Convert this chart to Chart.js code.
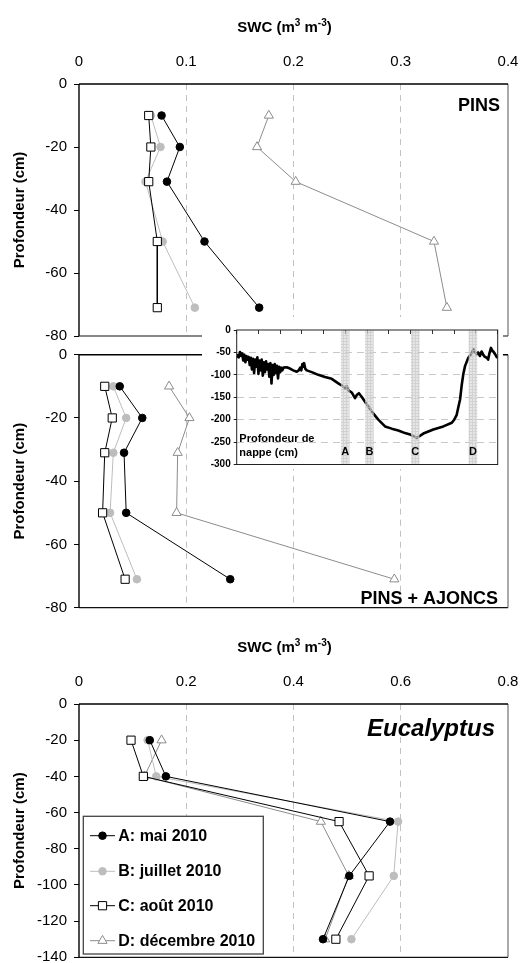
<!DOCTYPE html>
<html>
<head>
<meta charset="utf-8">
<script src="https://cdn.jsdelivr.net/npm/chart.js@4.4.1/dist/chart.umd.min.js"></script>
<style>
  html, body { margin: 0; padding: 0; background: #fff; }
  body { width: 521px; height: 963px; position: relative; overflow: hidden; }
  canvas { position: absolute; display: block; }
  #inset { background: linear-gradient(#fff, #fff) top left / 100% 152px no-repeat; z-index: 5; }
</style>
</head>
<body>
<canvas id="pins" width="521" height="353" style="left:0;top:0"></canvas>
<canvas id="ajoncs" width="521" height="288" style="left:0;top:337px"></canvas>
<canvas id="euca" width="521" height="355" style="left:0;top:620px"></canvas>
<canvas id="inset" width="301" height="158" style="left:202px;top:317px"></canvas>
<script>
// ---- campaigns ----
const campagnes = ['A: mai 2010', 'B: juillet 2010', 'C: août 2010', 'D: décembre 2010'];

// ---- PINS : soil water content (m3 m-3) by depth (cm) ----
const depthPins = [-10, -20, -31, -50, -71];
const pinsA = [0.077, 0.094, 0.082, 0.117, 0.168];
const pinsB = [0.067, 0.076, 0.062, 0.078, 0.108];
const pinsC = [0.065, 0.067, 0.065, 0.073, 0.073];
const pinsD = [0.177, 0.166, 0.202, 0.331, 0.343];

// ---- PINS + AJONCS ----
const depthAjoncs = [-10, -20, -31, -50, -71];
const ajoncsA = [0.038, 0.059, 0.042, 0.044, 0.141];
const ajoncsB = [0.032, 0.044, 0.032, 0.029, 0.054];
const ajoncsC = [0.024, 0.031, 0.024, 0.022, 0.043];
const ajoncsD = [0.084, 0.103, 0.092, 0.091, 0.294];

// ---- Eucalyptus ----
const depthEuc = [-20, -40, -65, -95, -130];
const eucA = [0.132, 0.162, 0.580, 0.504, 0.455];
const eucB = [0.128, 0.144, 0.595, 0.587, 0.508];
const eucC = [0.097, 0.120, 0.485, 0.541, 0.479];
const eucD = [0.154, 0.122, 0.451, 0.503, 0.459];

// ---- axis ranges / tick steps ----
const swcMaxPins = 0.4, swcStepPins = 0.1;
const swcMaxEuc = 0.8, swcStepEuc = 0.2;
const depthMinPins = -80, depthMinEuc = -140, depthStep = 20;

// ---- water table depth (cm) over time (months) ----
const nappeMois = [
  0.00, 0.05, 0.10, 0.15, 0.20, 0.25, 0.30, 0.35, 0.40, 0.45, 0.50, 0.55, 0.60, 0.65, 0.70,
  0.75, 0.80, 0.85, 0.90, 0.95, 1.00, 1.05, 1.10, 1.15, 1.20, 1.25, 1.30, 1.35, 1.40, 1.45,
  1.50, 1.55, 1.60, 1.65, 1.70, 1.75, 1.80, 1.85, 1.90, 1.95, 2.00, 2.05, 2.10, 2.15,
  2.30, 2.45, 2.60, 2.76, 2.85, 2.92, 2.97, 3.02, 3.06, 3.10, 3.15, 3.22, 3.45, 3.75, 4.06,
  4.37, 4.67, 4.90, 5.00, 5.05, 5.13, 5.30, 5.44, 5.52, 5.62, 5.76, 5.90, 6.21, 6.51, 6.82,
  7.13, 7.43, 7.74, 7.97, 8.20, 8.28, 8.58, 9.04, 9.50, 9.89, 10.00, 10.11, 10.20, 10.27,
  10.34, 10.42, 10.50, 10.65, 10.80, 10.88, 10.95, 11.03, 11.10, 11.18, 11.26, 11.33, 11.41,
  11.50, 11.56, 11.62, 11.69, 11.75, 11.80, 11.88, 11.95, 12.00
];
const nappeCm = [
  -62, -56, -61, -49, -57, -52, -68, -55, -72, -58, -66, -60, -78, -62, -88,
  -64, -96, -66, -82, -61, -98, -68, -90, -66, -102, -72, -94, -70, -88, -76,
  -104, -74, -119, -78, -100, -76, -96, -80, -108, -82, -94, -84, -90, -84,
  -83, -86, -90, -93, -90, -84, -90, -76, -82, -74, -86, -90, -94, -100, -105,
  -109, -119, -126, -131, -125, -134, -140, -152, -145, -141, -150, -160, -182, -200, -215,
  -220, -224, -230, -233, -239, -241, -231, -222, -215, -207, -200, -190, -170, -155,
  -125, -98, -80, -62, -52, -43, -50, -54, -50, -58, -48, -55, -60,
  -62, -66, -52, -40, -46, -48, -54, -60, -62
];
const bandes = ['A', 'B', 'C', 'D'];
const bandesMois = [4.99, 6.10, 8.21, 10.86];
const nappeMin = -300, nappeStep = 50, moisMax = 12;

// ---- styles ----
const FONT = '"Liberation Sans", Arial, Helvetica, sans-serif';
Chart.defaults.font.family = FONT;
Chart.defaults.color = '#000';

const seriesStyle = [
  { line: '#000000', fill: '#000000', border: '#000000', shape: 'circle',   r: 3.8, order: 0 },
  { line: '#bdbdbd', fill: '#bdbdbd', border: '#bdbdbd', shape: 'circle',   r: 3.8, order: 2 },
  { line: '#000000', fill: '#ffffff', border: '#000000', shape: 'rect',     r: 5.8, order: 1 },
  { line: '#8c8c8c', fill: '#ffffff', border: '#8c8c8c', shape: 'triangle', r: 5.3, order: 3 }
];

function drawSWCTitle(ctx, cx, cy) {
  const big = 'bold 15px ' + FONT, small = 'bold 10px ' + FONT;
  const parts = [['SWC (m', big, 0], ['3', small, -5], [' m', big, 0], ['-3', small, -5], [')', big, 0]];
  let total = 0;
  parts.forEach(p => { ctx.font = p[1]; total += ctx.measureText(p[0]).width; });
  let x = cx - total / 2;
  ctx.fillStyle = '#000';
  ctx.textBaseline = 'middle';
  ctx.textAlign = 'left';
  parts.forEach(p => { ctx.font = p[1]; ctx.fillText(p[0], x, cy + p[2]); x += ctx.measureText(p[0]).width; });
}

function hline(ctx, x1, y1, x2, y2, color, w) {
  ctx.beginPath(); ctx.strokeStyle = color; ctx.lineWidth = w;
  ctx.moveTo(x1, y1); ctx.lineTo(x2, y2); ctx.stroke();
}

// frames, panel names, axis title and legend
const panelDecor = {
  id: 'panelDecor',
  afterDraw(chart, args, o) {
    const { ctx, chartArea: a } = chart;
    ctx.save();
    if (o.frame) {
      hline(ctx, a.left, a.bottom, a.right, a.bottom, '#111', 1.2);
      hline(ctx, a.right, a.top, a.right, a.bottom, '#555', 1);
      hline(ctx, a.left, a.top, a.right, a.top, '#000', 1.6);
      hline(ctx, a.left, a.top, a.left, a.bottom, '#000', 1.4);
    }
    if (o.swcTitle) drawSWCTitle(ctx, (a.left + a.right) / 2 - 9, a.top - 56);
    if (o.name) {
      ctx.font = o.nameFont + ' ' + FONT;
      ctx.fillStyle = '#000';
      ctx.textAlign = 'right';
      ctx.textBaseline = 'middle';
      ctx.fillText(o.name, a.right - o.nameDx, o.nameFromTop ? a.top + o.nameDy : a.bottom - o.nameDy);
    }
    if (o.legend) {
      const x0 = a.left + 4.3, y0 = a.top + 112.3, w = 180, h = a.bottom - 3.3 - y0;
      ctx.fillStyle = '#fff';
      ctx.fillRect(x0, y0, w, h);
      ctx.strokeStyle = '#444'; ctx.lineWidth = 1.3;
      ctx.strokeRect(x0, y0, w, h);
      const rows = [19.4, 55, 89.4, 124.4];
      chart.data.datasets.forEach((ds, i) => {
        const y = y0 + rows[i];
        const s = seriesStyle[i];
        hline(ctx, x0 + 6.7, y, x0 + 31.7, y, s.line, 1);
        ctx.fillStyle = s.fill; ctx.strokeStyle = s.border; ctx.lineWidth = 1;
        Chart.helpers.drawPoint(ctx, { pointStyle: s.shape, radius: s.r, rotation: 0, borderWidth: 1 }, x0 + 19.2, y);
        ctx.font = 'bold 16px ' + FONT;
        ctx.fillStyle = '#000';
        ctx.textAlign = 'left';
        ctx.textBaseline = 'middle';
        ctx.fillText(ds.label, x0 + 35, y + 0.5);
      });
    }
    ctx.restore();
  }
};
Chart.register(panelDecor);

function profil(id, cfg) {
  const datasets = cfg.values.map((vals, i) => {
    const s = seriesStyle[i];
    return {
      label: campagnes[i],
      data: vals.map((v, k) => ({ x: v, y: cfg.depth[k] })),
      showLine: true,
      borderColor: s.line,
      borderWidth: 1,
      pointStyle: s.shape,
      pointRadius: s.r,
      pointBackgroundColor: s.fill,
      pointBorderColor: s.border,
      pointBorderWidth: 1,
      order: s.order
    };
  });
  return new Chart(document.getElementById(id), {
    type: 'scatter',
    data: { datasets },
    options: {
      responsive: false,
      animation: false,
      events: [],
      layout: { padding: cfg.padding },
      plugins: { legend: { display: false }, tooltip: { enabled: false }, panelDecor: cfg.decor },
      scales: {
        x: {
          type: 'linear',
          position: cfg.showX ? 'top' : 'bottom',
          min: 0, max: cfg.xMax,
          ticks: { stepSize: cfg.xStep, display: cfg.showX, padding: 0, color: '#000', font: { size: 15 } },
          grid: {
            drawTicks: cfg.showX,
            tickLength: 13,
            tickColor: 'rgba(0,0,0,0)',
            lineWidth: 1,
            color: c => (c.tick && c.tick.value > 1e-6 && c.tick.value < cfg.xMax - 1e-6) ? '#c2c2c2' : 'rgba(0,0,0,0)'
          },
          border: { display: false, dash: [6, 5] },
          afterFit: s => { s.height = cfg.showX ? 84 : 0; }
        },
        y: {
          type: 'linear',
          min: cfg.yMin, max: 0,
          ticks: { stepSize: depthStep, color: '#000', font: { size: 15 }, padding: 7 },
          grid: { drawOnChartArea: false, drawTicks: true, tickLength: 5, tickColor: '#000', tickWidth: 1 },
          border: { display: false },
          title: { display: true, text: 'Profondeur (cm)', color: '#000', font: { size: 15, weight: 'bold' }, padding: { top: 11, bottom: 0 } },
          afterFit: s => { s.width = 79; }
        }
      }
    }
  });
}

profil('pins', {
  depth: depthPins, values: [pinsA, pinsB, pinsC, pinsD],
  xMax: swcMaxPins, xStep: swcStepPins, yMin: depthMinPins, showX: true,
  padding: { left: 0, right: 13, top: 0, bottom: 17 },
  decor: { frame: true, swcTitle: true, name: 'PINS', nameFont: 'bold 18px', nameDx: 8, nameDy: 22, nameFromTop: true }
});

profil('ajoncs', {
  depth: depthAjoncs, values: [ajoncsA, ajoncsB, ajoncsC, ajoncsD],
  xMax: swcMaxPins, xStep: swcStepPins, yMin: depthMinPins, showX: false,
  padding: { left: 0, right: 13, top: 17.7, bottom: 17.3 },
  decor: { frame: true, name: 'PINS + AJONCS', nameFont: 'bold 18px', nameDx: 10, nameDy: 8.4, nameFromTop: false }
});

profil('euca', {
  depth: depthEuc, values: [eucA, eucB, eucC, eucD],
  xMax: swcMaxEuc, xStep: swcStepEuc, yMin: depthMinEuc, showX: true,
  padding: { left: 0, right: 13, top: 0, bottom: 17.7 },
  decor: { frame: true, swcTitle: true, legend: true, name: 'Eucalyptus', nameFont: 'italic bold 24px', nameDx: 13, nameDy: 25.7, nameFromTop: true }
});

// ---- water-table inset ----
function hatch() {
  const p = document.createElement('canvas');
  p.width = 3; p.height = 3;
  const g = p.getContext('2d');
  g.fillStyle = 'rgba(214,214,214,0.6)';
  g.fillRect(0, 0, 3, 3);
  g.fillStyle = 'rgba(196,196,196,0.6)';
  g.fillRect(0, 0, 3, 1);
  g.fillRect(0, 1, 1, 2);
  return g.createPattern(p, 'repeat');
}

const insetDecor = {
  id: 'insetDecor',
  afterDraw(chart) {
    const { ctx, chartArea: a, scales } = chart;
    ctx.save();
    ctx.strokeStyle = '#222'; ctx.lineWidth = 1;
    ctx.strokeRect(a.left, a.top, a.right - a.left, a.bottom - a.top);
    ctx.fillStyle = '#000';
    ctx.font = 'bold 11px ' + FONT;
    ctx.textAlign = 'left'; ctx.textBaseline = 'middle';
    ctx.fillText('Profondeur de', a.left + 2.6, a.bottom - 25.5);
    ctx.fillText('nappe (cm)', a.left + 2.6, a.bottom - 11.5);
    ctx.textAlign = 'center';
    bandes.forEach((b, i) => ctx.fillText(b, scales.x.getPixelForValue(bandesMois[i]), a.bottom - 12.5));
    ctx.restore();
  }
};

new Chart(document.getElementById('inset'), {
  type: 'line',
  data: {
    datasets: [
      {
        type: 'bar',
        label: 'campagnes',
        data: bandesMois.map(m => ({ x: m, y: [nappeMin, 0] })),
        backgroundColor: hatch(),
        borderWidth: 0,
        barThickness: 8,
        order: 0
      },
      {
        type: 'line',
        label: 'nappe',
        data: nappeMois.map((m, i) => ({ x: m, y: nappeCm[i] })),
        borderColor: '#000',
        borderWidth: 2.6,
        borderJoinStyle: 'round',
        pointRadius: 0,
        tension: 0,
        order: 1
      }
    ]
  },
  options: {
    responsive: false,
    animation: false,
    events: [],
    layout: { padding: { left: 0, right: 5.3, top: 13, bottom: 10.5 } },
    plugins: { legend: { display: false }, tooltip: { enabled: false } },
    scales: {
      x: {
        type: 'linear',
        position: 'top',
        min: 0, max: moisMax,
        offset: false,
        ticks: { stepSize: 1, display: false },
        grid: { offset: false, drawOnChartArea: false, drawTicks: true, tickLength: -4, tickColor: '#333', tickWidth: 1 },
        border: { display: false },
        afterFit: s => { s.height = 0; }
      },
      y: {
        type: 'linear',
        min: nappeMin, max: 0,
        ticks: { stepSize: nappeStep, color: '#000', font: { size: 10, weight: 'bold' }, padding: 3 },
        grid: {
          drawTicks: true, tickLength: 3, tickColor: '#222', tickWidth: 1, lineWidth: 1,
          color: c => (c.tick && c.tick.value > nappeMin && c.tick.value < 0) ? '#c8c8c8' : 'rgba(0,0,0,0)'
        },
        border: { display: false, dash: [7, 5] },
        afterFit: s => { s.width = 34.7; }
      }
    }
  },
  plugins: [insetDecor]
});
</script>
</body>
</html>
